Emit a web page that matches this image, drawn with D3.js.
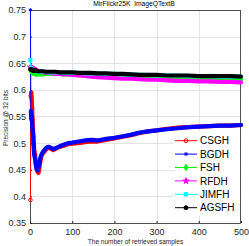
<!DOCTYPE html>
<html lang="en">
<head>
    <meta charset="UTF-8">
    <title>MirFlickr25K ImageQTextB</title>
    <script src="https://cdn.jsdelivr.net/npm/d3@7"></script>
    <style>
        body { margin: 0; background: #fff; }
        svg { display: block; font-family: "Liberation Sans", Arial, sans-serif; }
    </style>
</head>
<body>
    <script>
        var samples = [1, 2, 3, 4, 5, 6, 7, 8, 9, 10, 12, 14, 16, 18, 20, 22, 25, 28, 32, 36, 40, 45, 50, 55, 60,
            70, 80, 90, 100, 115, 130, 145, 160, 180, 200, 220, 240, 260, 280, 300, 325, 350, 375, 400, 425, 450, 475, 500];

        var csgh = [0.393, 0.588, 0.595, 0.583, 0.565, 0.545, 0.528, 0.512, 0.497, 0.485, 0.478, 0.462, 0.452, 0.446, 0.444, 0.452, 0.468, 0.478, 0.482, 0.486, 0.490, 0.491, 0.489, 0.487, 0.489,
            0.493, 0.495, 0.498, 0.499, 0.500, 0.502, 0.503, 0.503, 0.506, 0.509, 0.512, 0.515, 0.519, 0.522, 0.524, 0.527, 0.529, 0.530, 0.531, 0.532, 0.533, 0.533, 0.534];
        var bgdh = [0.750, 0.560, 0.545, 0.552, 0.538, 0.525, 0.520, 0.505, 0.490, 0.478, 0.470, 0.458, 0.450, 0.449, 0.454, 0.462, 0.474, 0.480, 0.485, 0.489, 0.492, 0.493, 0.491, 0.489, 0.490,
            0.494, 0.497, 0.500, 0.501, 0.503, 0.505, 0.506, 0.505, 0.508, 0.510, 0.513, 0.516, 0.520, 0.522, 0.524, 0.526, 0.528, 0.530, 0.531, 0.532, 0.533, 0.533, 0.534];
        var fsh = [0.640, 0.636, 0.635, 0.634, 0.634, 0.633, 0.633, 0.632, 0.632, 0.632, 0.631, 0.630, 0.630, 0.629, 0.629, 0.629, 0.629, 0.629, 0.629, 0.630, 0.630, 0.630, 0.630, 0.630, 0.630,
            0.630, 0.629, 0.629, 0.629, 0.628, 0.628, 0.628, 0.628, 0.627, 0.627, 0.626, 0.626, 0.625, 0.625, 0.624, 0.623, 0.623, 0.622, 0.622, 0.621, 0.620, 0.620, 0.619];
        var rfdh = [0.643, 0.642, 0.641, 0.641, 0.640, 0.640, 0.639, 0.639, 0.638, 0.638, 0.637, 0.637, 0.636, 0.636, 0.635, 0.635, 0.634, 0.634, 0.633, 0.633, 0.632, 0.632, 0.631, 0.631, 0.630,
            0.630, 0.629, 0.629, 0.628, 0.627, 0.626, 0.625, 0.624, 0.623, 0.622, 0.621, 0.621, 0.620, 0.619, 0.619, 0.618, 0.617, 0.617, 0.616, 0.616, 0.615, 0.615, 0.614];
        var jimfh = [0.656, 0.641, 0.639, 0.638, 0.638, 0.637, 0.637, 0.637, 0.636, 0.636, 0.636, 0.635, 0.635, 0.635, 0.635, 0.635, 0.634, 0.634, 0.634, 0.634, 0.634, 0.633, 0.633, 0.633, 0.633,
            0.633, 0.632, 0.632, 0.632, 0.632, 0.631, 0.631, 0.631, 0.630, 0.630, 0.629, 0.629, 0.628, 0.628, 0.627, 0.627, 0.627, 0.626, 0.626, 0.626, 0.625, 0.625, 0.625];
        var agsfh = [0.638, 0.639, 0.638, 0.638, 0.637, 0.637, 0.637, 0.637, 0.636, 0.636, 0.636, 0.636, 0.636, 0.635, 0.635, 0.635, 0.635, 0.635, 0.635, 0.634, 0.634, 0.634, 0.634, 0.634, 0.634,
            0.633, 0.633, 0.633, 0.633, 0.632, 0.632, 0.632, 0.631, 0.631, 0.630, 0.630, 0.629, 0.628, 0.628, 0.628, 0.627, 0.627, 0.627, 0.626, 0.626, 0.626, 0.626, 0.625];

        var names = ["CSGH", "BGDH", "FSH", "RFDH", "JIMFH", "AGSFH"];
        var values = [csgh, bgdh, fsh, rfdh, jimfh, agsfh];
        var xTicks = [0, 100, 200, 300, 400, 500];
        var yTicks = [0.35, 0.4, 0.45, 0.5, 0.55, 0.6, 0.65, 0.7, 0.75];

        var colors = ["#ff0000", "#0000ff", "#00ff00", "#ff00ff", "#00ffff", "#000000"];
        var symbols = [d3.symbolCircle, d3.symbolAsterisk, d3.symbolDiamond, d3.symbolStar, d3.symbolSquare, d3.symbolCircle];
        var filled = [false, false, true, true, true, true];

        var width = 249, height = 246;
        // plot box (window.top is reserved, so use own names)
        var pl = 30, pr = 241, pt = 10, pb = 223;

        var svg = d3.select("body").append("svg")
            .attr("width", width)
            .attr("height", height);

        var x = d3.scaleLinear().domain([0, 500]).range([pl, pr]);
        var y = d3.scaleLinear().domain([0.35, 0.75]).range([pb, pt]);

        // grid
        svg.append("g").selectAll("line")
            .data(xTicks.slice(1, -1)).enter().append("line")
            .attr("x1", function(d){ return Math.round(x(d)) + 0.5; })
            .attr("x2", function(d){ return Math.round(x(d)) + 0.5; })
            .attr("y1", pt).attr("y2", pb)
            .attr("stroke", "#e3e3e3");
        svg.append("g").selectAll("line")
            .data(yTicks.slice(1, -1)).enter().append("line")
            .attr("y1", function(d){ return Math.round(y(d)) + 0.5; })
            .attr("y2", function(d){ return Math.round(y(d)) + 0.5; })
            .attr("x1", pl).attr("x2", pr)
            .attr("stroke", "#e3e3e3");

        // axes
        var xAxis = d3.axisBottom(x).tickValues(xTicks).tickSizeInner(-2).tickSizeOuter(0).tickPadding(6);
        var yAxis = d3.axisLeft(y).tickValues(yTicks).tickSizeInner(-2).tickSizeOuter(0).tickPadding(4)
            .tickFormat(function(d){ return String(+d.toFixed(2)); });

        var gx = svg.append("g").attr("transform", "translate(0," + pb + ")").call(xAxis);
        var gy = svg.append("g").attr("transform", "translate(" + pl + ",0)").call(yAxis);
        [gx, gy].forEach(function(g){
            g.select(".domain").remove();
            g.selectAll("line").attr("stroke", "#262626");
            g.selectAll("text").attr("fill", "#262626").style("font-size", "9px").style("font-family", "Liberation Sans, Arial, sans-serif");
        });

        // box
        svg.append("rect")
            .attr("x", pl + 0.5).attr("y", pt + 0.5)
            .attr("width", pr - pl - 1).attr("height", pb - pt)
            .attr("fill", "none").attr("stroke", "#262626").attr("stroke-width", 0.8);

        // series
        var line = d3.line()
            .x(function(d){ return x(d[0]); })
            .y(function(d){ return y(d[1]); });

        values.forEach(function(vals, i){
            var pts = samples.map(function(s, j){ return [s, vals[j]]; });
            var g = svg.append("g");
            // dense markers make a thick band once the curve settles
            g.append("path")
                .attr("d", line(pts.slice(1)))
                .attr("fill", "none")
                .attr("stroke", colors[i])
                .attr("stroke-width", 4.2)
                .attr("stroke-linejoin", "round")
                .attr("stroke-linecap", "round");
            g.append("path")
                .attr("d", line(pts))
                .attr("fill", "none")
                .attr("stroke", colors[i])
                .attr("stroke-width", 1);
            g.selectAll("path.m").data(pts.slice(0, 12)).enter().append("path")
                .attr("class", "m")
                .attr("transform", function(d){ return "translate(" + x(d[0]) + "," + y(d[1]) + ")"; })
                .attr("d", d3.symbol().type(symbols[i]).size(10))
                .attr("fill", filled[i] ? colors[i] : "none")
                .attr("stroke", colors[i])
                .attr("stroke-width", 1);
        });

        // legend
        var lg = svg.append("g");
        lg.append("rect")
            .attr("x", 174).attr("y", 131)
            .attr("width", pr - 174 - 1).attr("height", 85)
            .attr("fill", "#fff");
        names.forEach(function(n, i){
            var ly = 140.7 + i * 13.4;
            lg.append("line")
                .attr("x1", 175).attr("x2", 197).attr("y1", ly).attr("y2", ly)
                .attr("stroke", colors[i]).attr("stroke-width", 1);
            lg.append("path")
                .attr("transform", "translate(186," + ly + ")")
                .attr("d", d3.symbol().type(symbols[i]).size(12))
                .attr("fill", filled[i] ? colors[i] : "none")
                .attr("stroke", colors[i]);
            lg.append("text")
                .attr("x", 200).attr("y", ly + 3.6)
                .style("font-size", "10px")
                .attr("fill", "#000")
                .text(n);
        });

        // title and labels
        svg.append("text")
            .attr("x", 134).attr("y", 6)
            .attr("text-anchor", "middle")
            .style("font-size", "6.7px")
            .style("white-space", "pre")
            .attr("fill", "#000")
            .text("MirFlickr25K  ImageQTextB");
        svg.append("text")
            .attr("x", 135.5).attr("y", 244)
            .attr("text-anchor", "middle")
            .style("font-size", "6.5px")
            .attr("fill", "#262626")
            .text("The number of retrieved samples");
        svg.append("text")
            .attr("transform", "translate(8,118) rotate(-90)")
            .attr("text-anchor", "middle")
            .style("font-size", "6.5px")
            .attr("fill", "#262626")
            .text("Precision @ 32 bits");
    </script>
</body>
</html>
